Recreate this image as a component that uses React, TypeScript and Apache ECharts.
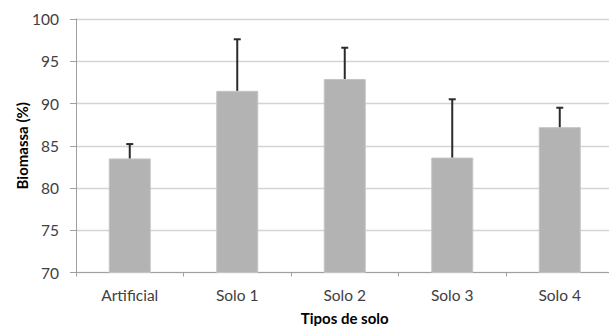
import React, { useEffect, useRef } from "react";
import * as echarts from "echarts";

const categories = ["Artificial", "Solo 1", "Solo 2", "Solo 3", "Solo 4"];
const means = [83.5, 91.5, 92.9, 83.6, 87.2];
const upperErrors = [85.2, 97.6, 96.6, 90.5, 89.5];
const yTicks = [70, 75, 80, 85, 90, 95, 100];

export default function App() {
  const ref = useRef<HTMLDivElement>(null);
  useEffect(() => {
    document.body.style.margin = "0";
    const chart = echarts.init(ref.current!, null, { renderer: "svg" });
    const font = "Lato";
    chart.setOption({
      animation: false,
      backgroundColor: "#ffffff",
      grid: { left: 76, top: 19, width: 537.5, height: 253.5, outerBoundsMode: "none", containLabel: false },
      xAxis: {
        type: "category",
        data: categories,
        name: "Tipos de solo",
        nameLocation: "middle",
        nameGap: 38,
        nameMoveOverlap: false,
        nameTextStyle: { fontFamily: font, fontSize: 15, fontWeight: "bold", color: "#000" },
        axisLine: { lineStyle: { color: "#a0a0a0", width: 1 } },
        axisTick: { show: true, length: 4, lineStyle: { color: "#a0a0a0" } },
        axisLabel: { fontFamily: font, fontSize: 15.5, color: "#404040", margin: 14 },
      },
      yAxis: {
        type: "value",
        min: yTicks[0],
        max: yTicks[yTicks.length - 1],
        interval: 5,
        name: "Biomassa (%)",
        nameLocation: "middle",
        nameGap: 47,
        nameMoveOverlap: false,
        nameRotate: 90,
        nameTextStyle: { fontFamily: font, fontSize: 15, fontWeight: "bold", color: "#000" },
        axisLine: { show: true, lineStyle: { color: "#a0a0a0", width: 1 } },
        axisTick: { show: true, length: 6, lineStyle: { color: "#a0a0a0" } },
        axisLabel: { fontFamily: font, fontSize: 15.5, color: "#404040", margin: 17 },
        splitLine: { lineStyle: { color: "#d4d4d4", width: 1.3 } },
      },
      series: [
        {
          type: "bar",
          data: means,
          barWidth: 42,
          itemStyle: { color: "#b3b3b3", borderColor: "#c4c4c4", borderWidth: 1 },
        },
        {
          type: "custom",
          data: categories.map((_, i) => [i, means[i], upperErrors[i]]),
          renderItem: (params: any, api: any) => {
            const base = api.coord([api.value(0), api.value(1)]);
            const top = api.coord([api.value(0), api.value(2)]);
            const x = base[0];
            const style = { stroke: "#2b2b2b", lineWidth: 2 };
            return {
              type: "group",
              children: [
                { type: "line", shape: { x1: x, y1: base[1], x2: x, y2: top[1] }, style },
                { type: "line", shape: { x1: x - 3.5, y1: top[1], x2: x + 3.5, y2: top[1] }, style },
              ],
            };
          },
          z: 10,
        },
      ],
    });
    return () => chart.dispose();
  }, []);
  return (
    <div
      ref={ref}
      style={{ position: "absolute", left: 0, top: 0, width: 609, height: 326, overflow: "hidden" }}
    />
  );
}
